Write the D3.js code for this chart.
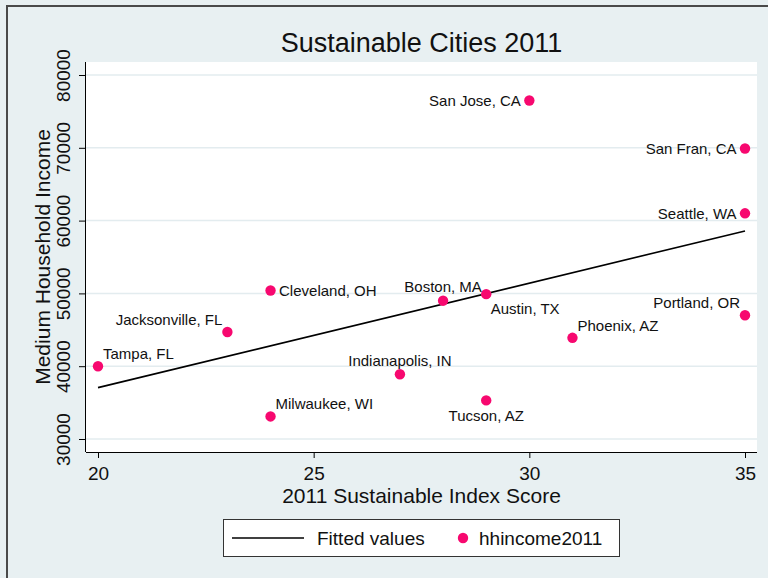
<!DOCTYPE html>
<meta charset="utf-8">
<style>
  body { margin: 0; background: #e8f0f2; }
  text { font-family: "Liberation Sans", Arial, Helvetica, sans-serif; fill: #111; }
</style>
<!-- Load d3.js -->
<script src="https://cdn.jsdelivr.net/npm/d3@7"></script>
<body>
<div id="scatter_cities"></div>
</body>
<script>
// data
var cities = ["Tampa, FL", "Jacksonville, FL", "Cleveland, OH", "Milwaukee, WI", "Indianapolis, IN",
              "Boston, MA", "Austin, TX", "Tucson, AZ", "Phoenix, AZ", "Portland, OR",
              "Seattle, WA", "San Fran, CA", "San Jose, CA"];
var scores  = [20, 23, 24, 24, 27, 28, 29, 29, 31, 35, 35, 35, 30];
var incomes = [40000, 44700, 50400, 33100, 38900, 49000, 49900, 35300, 43900, 47000, 61000, 69900, 76500];
var xTicks = [20, 25, 30, 35];
var yTicks = [30000, 40000, 50000, 60000, 70000, 80000];

// where each marker label sits (clock position, like stata mlabvpos)
var labelClock = {
  "Tampa, FL": 1, "Jacksonville, FL": 11, "Cleveland, OH": 3, "Milwaukee, WI": 1,
  "Indianapolis, IN": 12, "Boston, MA": 12, "Austin, TX": 5, "Tucson, AZ": 6,
  "Phoenix, AZ": 1, "Portland, OR": 11, "Seattle, WA": 9, "San Fran, CA": 9, "San Jose, CA": 9
};

var data = cities.map(function(c, i) { return {city: c, score: scores[i], income: incomes[i]}; });

var W = 768, H = 578;
// plot region
var plot = {left: 86, right: 757, top: 62, bottom: 452};

var svg = d3.select("#scatter_cities")
  .append("svg")
    .attr("width", W)
    .attr("height", H);

// outer frame
svg.append("rect")
  .attr("x", 7).attr("y", 6)
  .attr("width", W + 20).attr("height", H + 20)
  .attr("fill", "#e8f0f2")
  .attr("stroke", "#4a4a4a")
  .attr("stroke-width", 2);

svg.append("rect")
  .attr("x", plot.left).attr("y", plot.top)
  .attr("width", plot.right - plot.left).attr("height", plot.bottom - plot.top)
  .attr("fill", "#fff");

var x = d3.scaleLinear()
  .domain([20, 35])
  .range([plot.left + 12, plot.right - 12]);

var y = d3.scaleLinear()
  .domain([30000, 80000])
  .range([plot.bottom - 13, plot.top + 13]);

// grid lines
svg.append("g")
  .selectAll("line")
  .data(yTicks)
  .enter()
  .append("line")
    .attr("x1", plot.left).attr("x2", plot.right)
    .attr("y1", function(d) { return y(d); })
    .attr("y2", function(d) { return y(d); })
    .attr("stroke", "#e3ecef")
    .attr("stroke-width", 1.5);

// X axis
var xAxis = svg.append("g")
  .attr("transform", "translate(0," + plot.bottom + ")")
  .call(d3.axisBottom(x).tickValues(xTicks).tickSize(6).tickPadding(9).tickSizeOuter(0));
xAxis.select(".domain").attr("d", "M" + plot.left + ",0.5H" + plot.right).attr("stroke", "#000");
xAxis.selectAll("text").style("font-size", "19px").attr("fill", "#111");

// Y axis
var yAxis = svg.append("g")
  .attr("transform", "translate(" + plot.left + ",0)")
  .call(d3.axisLeft(y).tickValues(yTicks).tickFormat(d3.format("d")).tickSize(7).tickPadding(0).tickSizeOuter(0));
yAxis.select(".domain").attr("d", "M-0.5," + plot.top + "V" + plot.bottom).attr("stroke", "#000");
yAxis.selectAll("text")
  .style("font-size", "19px")
  .attr("fill", "#111")
  .attr("text-anchor", "middle")
  .attr("x", null).attr("dy", null)
  .attr("transform", "translate(-16,0) rotate(-90)");

// titles
svg.append("text")
  .attr("x", (plot.left + plot.right) / 2)
  .attr("y", 52)
  .attr("text-anchor", "middle")
  .style("font-size", "27px")
  .text("Sustainable Cities 2011");

svg.append("text")
  .attr("x", (plot.left + plot.right) / 2)
  .attr("y", 503)
  .attr("text-anchor", "middle")
  .style("font-size", "21px")
  .text("2011 Sustainable Index Score");

svg.append("text")
  .attr("transform", "translate(50," + ((plot.top + plot.bottom) / 2) + ") rotate(-90)")
  .attr("text-anchor", "middle")
  .style("font-size", "21px")
  .text("Medium Household Income");

// fitted values (OLS of income on score)
var mx = d3.mean(scores), my = d3.mean(incomes);
var sxy = d3.sum(data, function(d) { return (d.score - mx) * (d.income - my); });
var sxx = d3.sum(data, function(d) { return (d.score - mx) * (d.score - mx); });
var slope = sxy / sxx, icept = my - slope * mx;
var fitX = d3.extent(scores);

svg.append("path")
  .datum(fitX)
  .attr("fill", "none")
  .attr("stroke", "#000")
  .attr("stroke-width", 1.6)
  .attr("d", d3.line()
    .x(function(d) { return x(d); })
    .y(function(d) { return y(icept + slope * d); }));

// points
var pink = "#f7086f";
svg.append("g")
  .selectAll("circle")
  .data(data)
  .enter()
  .append("circle")
    .attr("cx", function(d) { return x(d.score); })
    .attr("cy", function(d) { return y(d.income); })
    .attr("r", 5.2)
    .attr("fill", pink);

// marker labels
var clockOffset = {
  1:  {dx: 5,    dy: -7,   anchor: "start"},
  3:  {dx: 8.5,  dy: 5.5,  anchor: "start"},
  5:  {dx: 4.5,  dy: 19.5, anchor: "start"},
  6:  {dx: 0,    dy: 21,   anchor: "middle"},
  9:  {dx: -8.5, dy: 5.5,  anchor: "end"},
  11: {dx: -5,   dy: -7,   anchor: "end"},
  12: {dx: 0,    dy: -8.5, anchor: "middle"}
};

svg.append("g")
  .selectAll("text")
  .data(data)
  .enter()
  .append("text")
    .attr("x", function(d) { return x(d.score) + clockOffset[labelClock[d.city]].dx; })
    .attr("y", function(d) { return y(d.income) + clockOffset[labelClock[d.city]].dy; })
    .attr("text-anchor", function(d) { return clockOffset[labelClock[d.city]].anchor; })
    .style("font-size", "15px")
    .text(function(d) { return d.city; });

// legend
var legend = svg.append("g");
legend.append("rect")
  .attr("x", 223.5).attr("y", 519.5)
  .attr("width", 396).attr("height", 37)
  .attr("fill", "#fff")
  .attr("stroke", "#333")
  .attr("stroke-width", 1);
legend.append("line")
  .attr("x1", 232).attr("x2", 304)
  .attr("y1", 538).attr("y2", 538)
  .attr("stroke", "#000")
  .attr("stroke-width", 1.6);
legend.append("text")
  .attr("x", 317).attr("y", 545)
  .style("font-size", "19px")
  .text("Fitted values");
legend.append("circle")
  .attr("cx", 463).attr("cy", 538)
  .attr("r", 5.2)
  .attr("fill", pink);
legend.append("text")
  .attr("x", 479).attr("y", 545)
  .style("font-size", "19px")
  .text("hhincome2011");
</script>
</html>
